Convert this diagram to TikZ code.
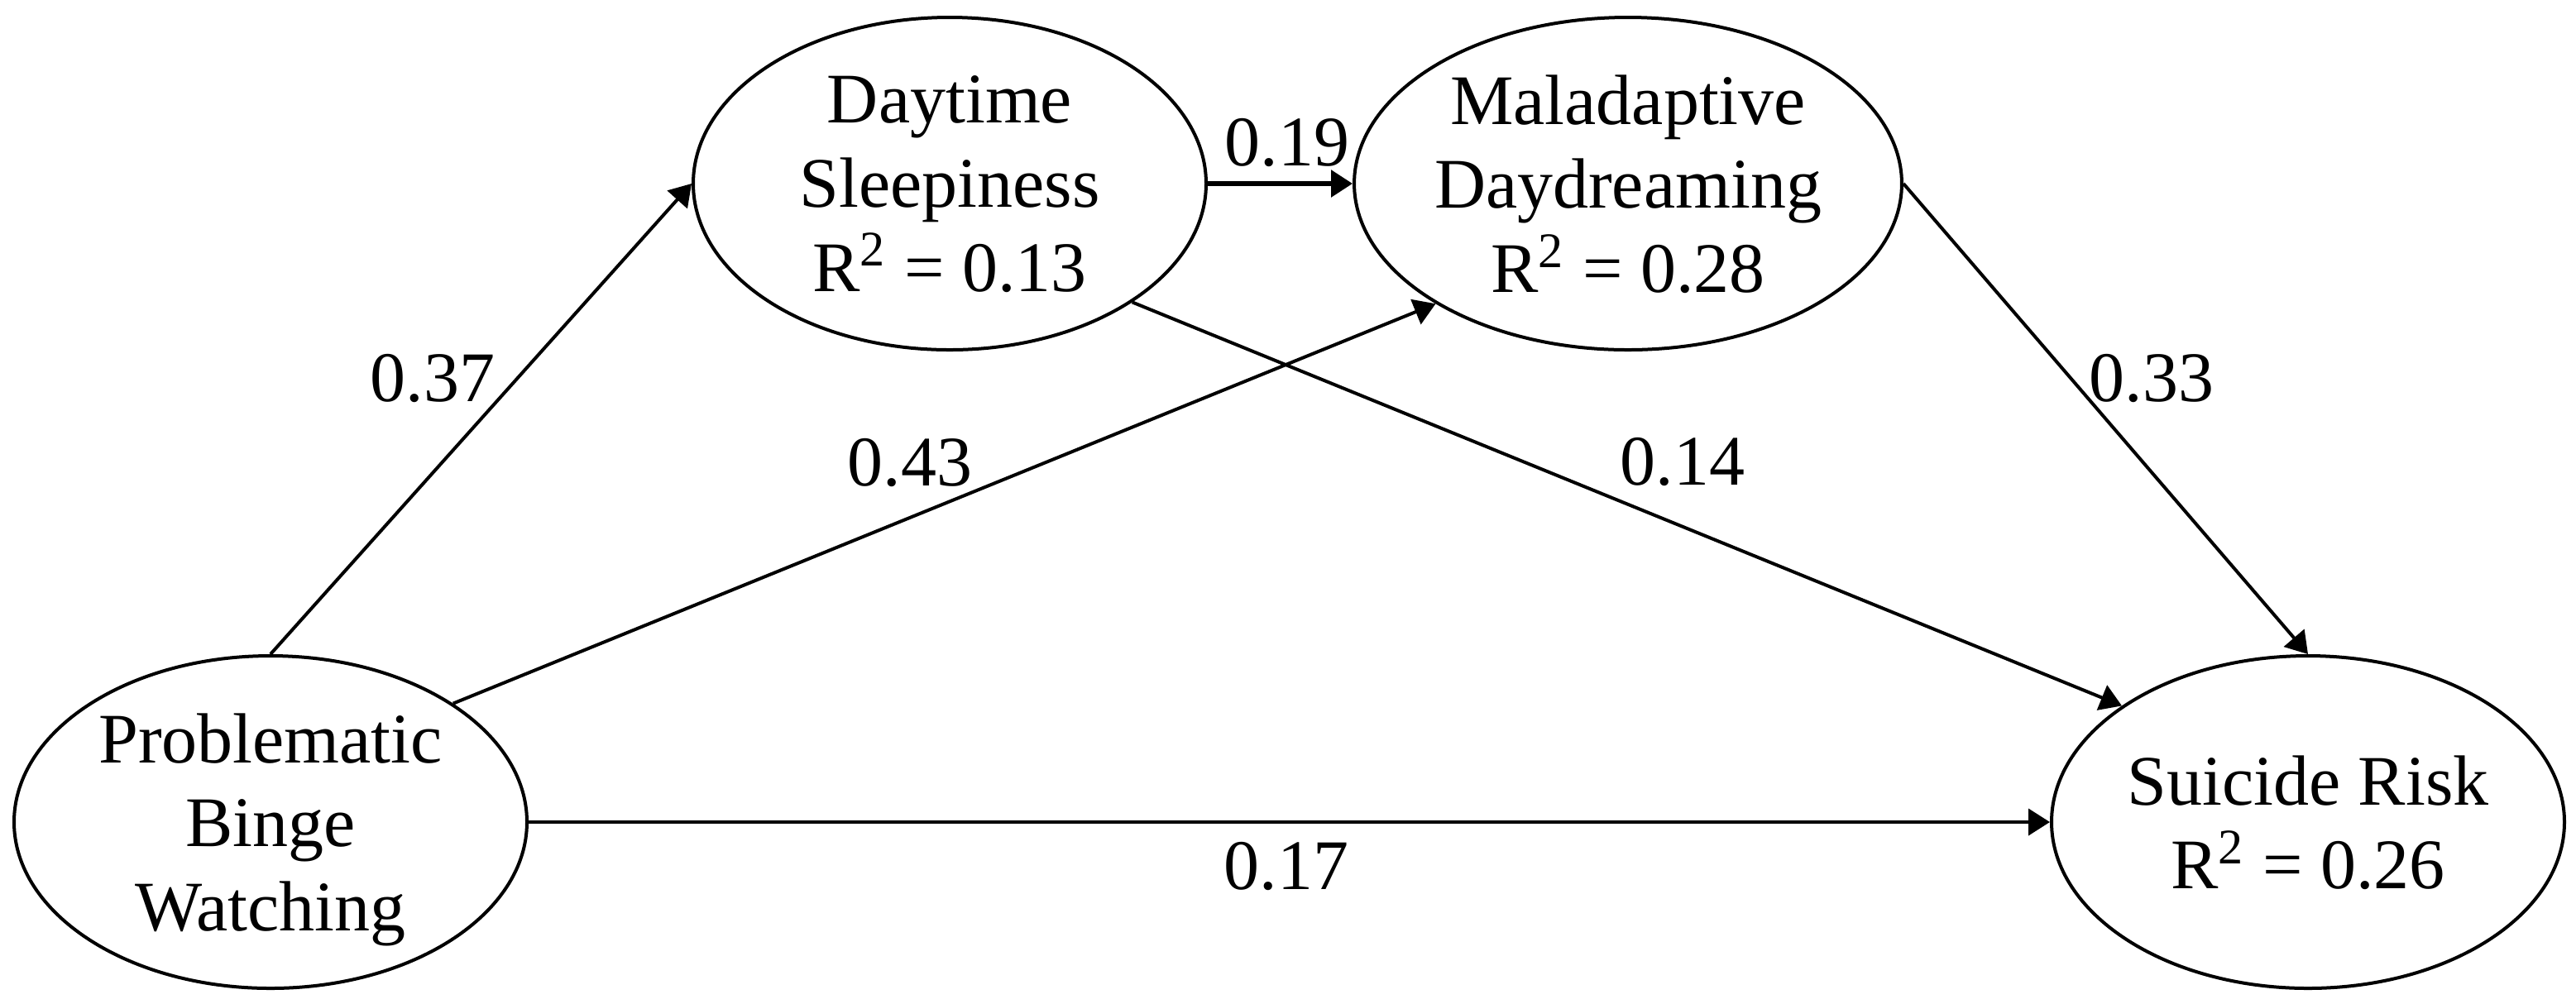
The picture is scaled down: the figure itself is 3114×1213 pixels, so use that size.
\documentclass[tikz,border=0pt]{standalone}
\usepackage{fontspec}
\setmainfont{Liberation Serif}
\usetikzlibrary{arrows.meta,shapes.geometric}
\tikzset{
  latent/.style={draw, line width=1pt, ellipse, minimum width=155pt, minimum height=100.5pt,
    inner sep=0pt, align=center, text depth=0pt,
    font=\fontsize{21.5}{25.4}\selectfont},
  path/.style={line width=1pt, -{Triangle[length=6.5pt,width=8pt]}},
  coef/.style={inner sep=0pt, font=\fontsize{21.5}{25.4}\selectfont}
}
\begin{document}
\begin{tikzpicture}[x=0.25pt,y=-0.25pt]
\useasboundingbox (0,0) rectangle (3114,1213);
\node[latent] (day) at (1148,222) {Daytime\\Sleepiness\\R\textsuperscript{2} = 0.13};
\node[latent] (mal) at (1968,222) {Maladaptive\\Daydreaming\\R\textsuperscript{2} = 0.28};
\node[latent] (pbw) at (327,994) {Problematic\\Binge\\Watching};
\node[latent] (sui) at (2790,994) {Suicide Risk\\R\textsuperscript{2} = 0.26};

\draw[path] (pbw.north) -- (day.west);
\draw[path] (pbw.33) -- (mal.212);
\draw[path, line width=1.4pt] (day.east) -- (mal.west);
\draw[path] (day.327) -- (sui.148);
\draw[path] (mal.east) -- (sui.north);
\draw[path] (pbw.east) -- (sui.west);

\node[coef] (c37) at (523,457) {0.37};
\node[coef] (c43) at (1100,559) {0.43};
\node[coef] (c19) at (1556,172) {0.19};
\node[coef] (c14) at (2034,558) {0.14};
\node[coef] (c33) at (2601,457) {0.33};
\node[coef] (c17) at (1555,1047) {0.17};
\end{tikzpicture}
\end{document}
